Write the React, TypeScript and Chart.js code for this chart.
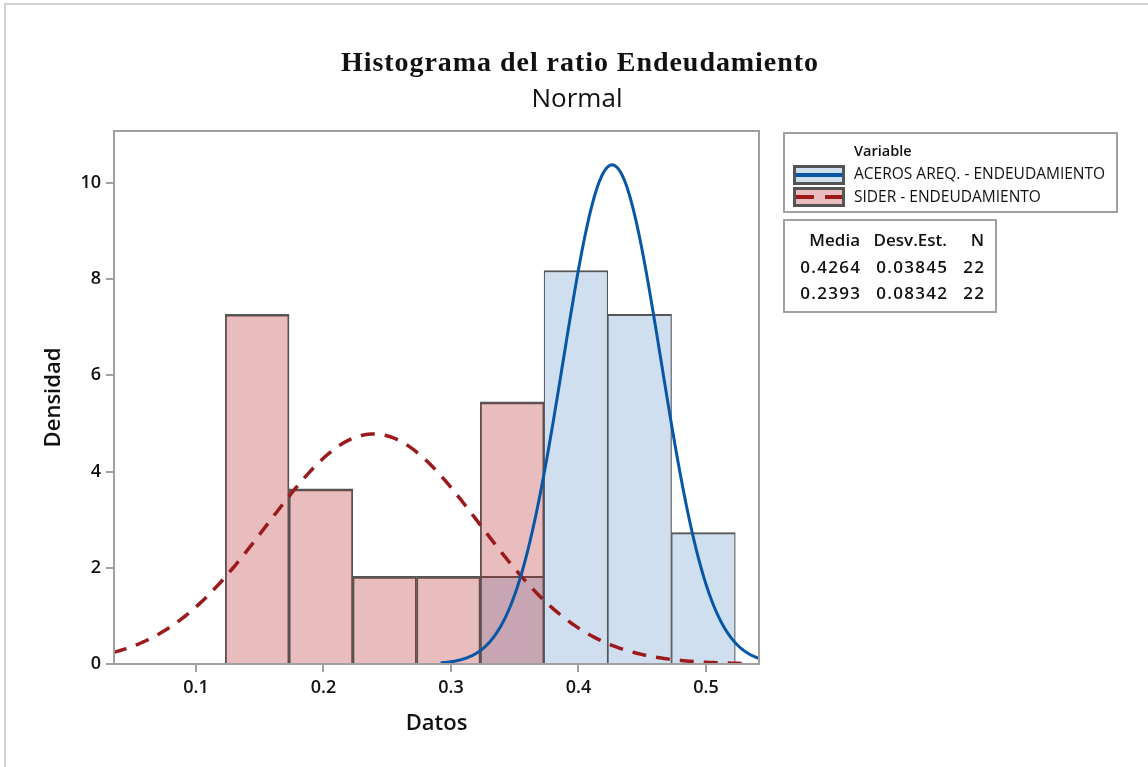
import React, { useEffect, useRef } from "react";
import { Chart, registerables } from "chart.js";

Chart.register(...registerables);

// Histogram bins (midpoints) and densities for each variable
const siderMidpoints = [0.148, 0.198, 0.248, 0.298, 0.348];
const siderDensity = [7.27, 3.64, 1.82, 1.82, 5.45];
const acerosMidpoints = [0.348, 0.398, 0.448, 0.498];
const acerosDensity = [1.82, 8.18, 7.27, 2.73];

// Fitted normal parameters shown in the summary table
const seriesNames = ["ACEROS AREQ. - ENDEUDAMIENTO", "SIDER - ENDEUDAMIENTO"];
const seriesMean = [0.4264, 0.2393];
const seriesStdDev = [0.03845, 0.08342];
const seriesN = [22, 22];

// Axis ticks
const xTickValues = [0.1, 0.2, 0.3, 0.4, 0.5];
const yTickValues = [0, 2, 4, 6, 8, 10];

const SANS = '"Open Sans", "Noto Sans", sans-serif';
const BLUE_LINE = "#0757a6";
const RED_LINE = "#9b1a1c";
const BLUE_FILL = "#d0dfef";
const PINK_FILL = "#e9bcbe";
const BAR_EDGE = "#555555";
const FRAME = "#a0a0a0";

// Normal density evaluated across mean ± 3.5 sd
function normalCurve(mean: number, sd: number, steps = 300) {
  const pts: { x: number; y: number }[] = [];
  const lo = mean - 3.5 * sd;
  const hi = mean + 3.5 * sd;
  for (let i = 0; i <= steps; i++) {
    const x = lo + ((hi - lo) * i) / steps;
    const z = (x - mean) / sd;
    pts.push({ x, y: Math.exp(-0.5 * z * z) / (sd * Math.sqrt(2 * Math.PI)) });
  }
  return pts;
}

const plotFrame = {
  id: "plotFrame",
  afterDatasetsDraw(chart: any) {
    const { ctx, chartArea } = chart;
    ctx.save();
    ctx.strokeStyle = FRAME;
    ctx.lineWidth = 2;
    ctx.strokeRect(
      chartArea.left,
      chartArea.top,
      chartArea.right - chartArea.left,
      chartArea.bottom - chartArea.top
    );
    ctx.restore();
  },
};

export default function App() {
  const canvasRef = useRef<HTMLCanvasElement | null>(null);

  useEffect(() => {
    if (!canvasRef.current) return;
    const barBorder = { top: 2, left: 1.2, right: 1.2, bottom: 0 };
    const chart = new Chart(canvasRef.current, {
      type: "bar",
      data: {
        datasets: [
          {
            type: "line",
            label: seriesNames[0],
            data: normalCurve(seriesMean[0], seriesStdDev[0]),
            borderColor: BLUE_LINE,
            borderWidth: 3,
            pointRadius: 0,
            fill: false,
            order: 0,
          },
          {
            type: "line",
            label: seriesNames[1],
            data: normalCurve(seriesMean[1], seriesStdDev[1]),
            borderColor: RED_LINE,
            borderWidth: 3.5,
            borderDash: [14, 10],
            pointRadius: 0,
            fill: false,
            order: 1,
          },
          {
            type: "bar",
            label: seriesNames[1],
            data: siderMidpoints.map((x, i) => ({ x, y: siderDensity[i] })),
            backgroundColor: "rgba(182, 32, 38, 0.3)",
            borderColor: BAR_EDGE,
            borderWidth: barBorder,
            borderSkipped: false,
            grouped: false,
            barPercentage: 1,
            categoryPercentage: 1,
            order: 2,
          },
          {
            type: "bar",
            label: seriesNames[0],
            data: acerosMidpoints.map((x, i) => ({ x, y: acerosDensity[i] })),
            backgroundColor: BLUE_FILL,
            borderColor: BAR_EDGE,
            borderWidth: barBorder,
            borderSkipped: false,
            grouped: false,
            barPercentage: 1,
            categoryPercentage: 1,
            order: 3,
          },
        ] as any,
      },
      options: {
        responsive: false,
        animation: false,
        devicePixelRatio: 1,
        layout: { padding: { left: 0, top: 131, right: 389, bottom: 0 } },
        plugins: {
          legend: { display: false },
          title: { display: false },
          tooltip: { enabled: false },
        },
        scales: {
          x: {
            type: "linear",
            min: 0.0357,
            max: 0.5416,
            offset: false,
            afterBuildTicks: (s: any) => {
              s.ticks = xTickValues.map((v) => ({ value: v }));
            },
            afterFit: (s: any) => {
              s.height = 103;
            },
            grid: {
              display: true,
              offset: false,
              drawOnChartArea: false,
              drawTicks: true,
              tickLength: 8,
              color: FRAME,
              lineWidth: 2,
            },
            border: { display: false },
            ticks: {
              autoSkip: false,
              maxRotation: 0,
              padding: 5,
              color: "#111",
              font: { family: SANS, size: 18, weight: "600" },
              callback: (v: any) => String(v),
            },
            title: {
              display: true,
              text: "Datos",
              color: "#111",
              font: { family: SANS, size: 22, weight: "600" },
              padding: { top: 0, bottom: 30 },
            },
          },
          y: {
            type: "linear",
            min: 0,
            max: 11.08,
            afterBuildTicks: (s: any) => {
              s.ticks = yTickValues.map((v) => ({ value: v }));
            },
            afterFit: (s: any) => {
              s.width = 114;
            },
            grid: {
              display: true,
              drawOnChartArea: false,
              drawTicks: true,
              tickLength: 8,
              color: FRAME,
              lineWidth: 2,
            },
            border: { display: false },
            ticks: {
              padding: 5,
              color: "#111",
              font: { family: SANS, size: 18, weight: "600" },
              callback: (v: any) => String(v),
            },
            title: {
              display: true,
              text: "Densidad",
              color: "#111",
              font: { family: SANS, size: 22, weight: "600" },
              padding: { top: 41, bottom: 0 },
            },
          },
        },
      } as any,
      plugins: [plotFrame],
    });
    return () => chart.destroy();
  }, []);

  const text: React.CSSProperties = {
    position: "absolute",
    whiteSpace: "nowrap",
    fontFamily: SANS,
    color: "#111",
    lineHeight: 1,
  };

  const statsCols = [
    { right: 1148 - 860, head: "Media", vals: seriesMean.map((m) => m.toFixed(4)) },
    { right: 1148 - 947, head: "Desv.Est.", vals: seriesStdDev.map((s) => s.toFixed(5)) },
    { right: 1148 - 984, head: "N", vals: seriesN.map((n) => String(n)) },
  ];
  const statsRowsY = [240, 267, 293];

  return (
    <div
      style={{
        position: "relative",
        width: 1148,
        height: 767,
        background: "#fff",
        overflow: "hidden",
      }}
    >
      <style>{"body{margin:0;}"}</style>
      <div
        style={{
          position: "absolute",
          left: 4,
          top: 3,
          right: 0,
          bottom: 0,
          borderTop: "2px solid #d2d2d2",
          borderLeft: "2px solid #d2d2d2",
        }}
      />
      <canvas
        ref={canvasRef}
        width={1148}
        height={767}
        style={{ position: "absolute", left: 0, top: 0, width: 1148, height: 767 }}
      />

      {/* Title */}
      <div
        style={{
          ...text,
          left: 580,
          top: 48,
          transform: "translateX(-50%)",
          fontFamily: '"Liberation Serif", "DejaVu Serif", serif',
          fontWeight: 700,
          fontSize: 28,
          letterSpacing: 0.95,
        }}
      >
        Histograma del ratio Endeudamiento
      </div>
      <div
        style={{
          ...text,
          left: 577,
          top: 84,
          transform: "translateX(-50%)",
          fontSize: 26,
        }}
      >
        Normal
      </div>

      {/* Legend */}
      <div
        style={{
          position: "absolute",
          left: 783,
          top: 132,
          width: 335,
          height: 81,
          boxSizing: "border-box",
          border: "2px solid " + FRAME,
        }}
      />
      <div style={{ ...text, left: 854, top: 144, fontSize: 14.5, fontWeight: 600 }}>Variable</div>
      {[0, 1].map((k) => (
        <React.Fragment key={k}>
          <div
            style={{
              position: "absolute",
              left: 793,
              top: k === 0 ? 165 : 187,
              width: 52,
              height: 20,
              boxSizing: "border-box",
              border: "3px solid " + BAR_EDGE,
              background: k === 0 ? BLUE_FILL : PINK_FILL,
            }}
          >
            {k === 0 ? (
              <div
                style={{
                  position: "absolute",
                  left: 0,
                  right: 0,
                  top: 5,
                  height: 4,
                  background: BLUE_LINE,
                }}
              />
            ) : (
              <>
                <div
                  style={{
                    position: "absolute",
                    left: 0,
                    width: 18,
                    top: 5,
                    height: 4,
                    background: RED_LINE,
                  }}
                />
                <div
                  style={{
                    position: "absolute",
                    left: 29,
                    width: 17,
                    top: 5,
                    height: 4,
                    background: RED_LINE,
                  }}
                />
              </>
            )}
          </div>
          <div
            style={{
              ...text,
              left: 854,
              top: (k === 0 ? 174 : 197) - 8,
              fontSize: 15.5,
            }}
          >
            {seriesNames[k]}
          </div>
        </React.Fragment>
      ))}

      {/* Summary table */}
      <div
        style={{
          position: "absolute",
          left: 783,
          top: 219,
          width: 214,
          height: 94,
          boxSizing: "border-box",
          border: "2px solid " + FRAME,
        }}
      />
      {statsCols.map((c, ci) =>
        [c.head, ...c.vals].map((t, ri) => (
          <div
            key={ci + "-" + ri}
            style={{
              ...text,
              right: c.right - (ri === 0 ? 0 : 1.3),
              top: statsRowsY[ri] - 9,
              fontSize: 17,
              fontWeight: 600,
              letterSpacing: ri === 0 ? 0 : 1.3,
              textAlign: "right",
            }}
          >
            {t}
          </div>
        ))
      )}
    </div>
  );
}
